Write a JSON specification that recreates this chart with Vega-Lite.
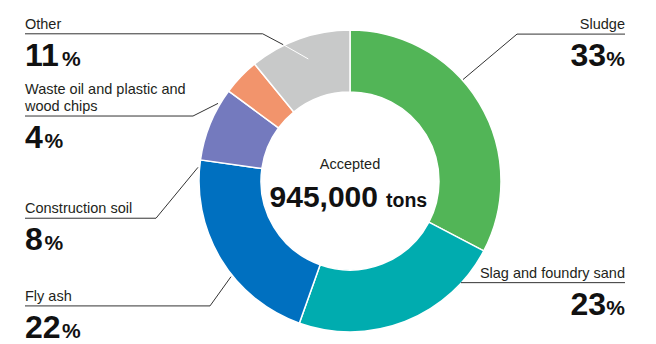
{
  "$schema": "https://vega.github.io/schema/vega-lite/v6.json",
  "width": 656,
  "height": 344,
  "autosize": {"type": "fit", "contains": "padding"},
  "padding": 0,
  "background": "white",
  "config": {"view": {"stroke": null}},
  "datasets": {
    "shares": [
      {"category": "Sludge", "share": 33, "o": 1},
      {"category": "Slag and foundry sand", "share": 23, "o": 2},
      {"category": "Fly ash", "share": 22, "o": 3},
      {"category": "Construction soil", "share": 8, "o": 4},
      {"category": "Waste oil and plastic and wood chips", "share": 4, "o": 5},
      {"category": "Other", "share": 11, "o": 6}
    ],
    "leaders": [
      {"name": "Sludge", "k": 1, "x": 463, "y": 80},
      {"name": "Sludge", "k": 2, "x": 517, "y": 34.3},
      {"name": "Sludge", "k": 3, "x": 625, "y": 34.3},
      {"name": "Slag", "k": 1, "x": 461, "y": 284.3},
      {"name": "Slag", "k": 2, "x": 625, "y": 284.3},
      {"name": "Fly ash", "k": 1, "x": 231, "y": 278.3},
      {"name": "Fly ash", "k": 2, "x": 210, "y": 307.7},
      {"name": "Fly ash", "k": 3, "x": 25, "y": 307.7},
      {"name": "Construction soil", "k": 1, "x": 198, "y": 168.3},
      {"name": "Construction soil", "k": 2, "x": 156, "y": 219.5},
      {"name": "Construction soil", "k": 3, "x": 25, "y": 219.5},
      {"name": "Waste oil", "k": 1, "x": 218, "y": 104},
      {"name": "Waste oil", "k": 2, "x": 193, "y": 116.7},
      {"name": "Waste oil", "k": 3, "x": 25, "y": 116.7},
      {"name": "Other", "k": 1, "x": 283.3, "y": 45},
      {"name": "Other", "k": 2, "x": 262.7, "y": 34},
      {"name": "Other", "k": 3, "x": 25, "y": 34}
    ],
    "inner": [
      {"name": "Other", "k": 1, "x": 308.3, "y": 59.3},
      {"name": "Other", "k": 2, "x": 283.3, "y": 45}
    ],
    "labels": [
      {"name": "Sludge", "label": "Sludge", "num": "33", "side": "R", "lx": 625, "ly": 34.3},
      {"name": "Slag", "label": "Slag and foundry sand", "num": "23", "side": "R", "lx": 625, "ly": 284.3},
      {"name": "Fly ash", "label": "Fly ash", "num": "22", "side": "L", "lx": 25, "ly": 307.7},
      {"name": "Construction soil", "label": "Construction soil", "num": "8", "side": "L", "lx": 25, "ly": 219.5},
      {"name": "Waste oil", "label": ["Waste oil and plastic and", "wood chips"], "num": "4", "side": "L", "lx": 25, "ly": 116.7},
      {"name": "Other", "label": "Other", "num": "11", "side": "L", "lx": 25, "ly": 34}
    ]
  },
  "layer": [
    {
      "data": {"name": "shares"},
      "mark": {"type": "arc", "innerRadius": 89, "outerRadius": 151, "stroke": "white", "strokeWidth": 1.5},
      "encoding": {
        "theta": {"field": "share", "type": "quantitative", "stack": true},
        "order": {"field": "o", "type": "quantitative"},
        "color": {
          "field": "category", "type": "nominal", "legend": null,
          "scale": {
            "domain": ["Sludge", "Slag and foundry sand", "Fly ash", "Construction soil", "Waste oil and plastic and wood chips", "Other"],
            "range": ["#52b557", "#00acaf", "#0070c0", "#747abe", "#f2946c", "#c8c9c9"]
          }
        },
        "x": {"datum": 350, "type": "quantitative", "scale": {"domain": [0, 656], "nice": false, "zero": false}, "axis": null},
        "y": {"datum": 182, "type": "quantitative", "scale": {"domain": [0, 344], "nice": false, "zero": false, "reverse": true}, "axis": null}
      }
    },
    {
      "data": {"name": "leaders"},
      "mark": {"type": "line", "color": "#333333", "strokeWidth": 1},
      "encoding": {
        "x": {"field": "x", "type": "quantitative"},
        "y": {"field": "y", "type": "quantitative"},
        "detail": {"field": "name"},
        "order": {"field": "k", "type": "quantitative"}
      }
    },
    {
      "data": {"name": "inner"},
      "mark": {"type": "line", "color": "#ffffff", "strokeWidth": 1},
      "encoding": {
        "x": {"field": "x", "type": "quantitative"},
        "y": {"field": "y", "type": "quantitative"},
        "detail": {"field": "name"},
        "order": {"field": "k", "type": "quantitative"}
      }
    },
    {
      "data": {"name": "labels"},
      "transform": [{"filter": "datum.side === 'R'"}],
      "mark": {"type": "text", "align": "right", "baseline": "alphabetic", "dy": -5, "font": "Liberation Sans", "fontSize": 14.5, "color": "#231f20"},
      "encoding": {
        "x": {"field": "lx", "type": "quantitative"},
        "y": {"field": "ly", "type": "quantitative"},
        "text": {"field": "label"}
      }
    },
    {
      "data": {"name": "labels"},
      "transform": [{"filter": "datum.side === 'L' && !isArray(datum.label)"}],
      "mark": {"type": "text", "align": "left", "baseline": "alphabetic", "dy": -5, "font": "Liberation Sans", "fontSize": 14.5, "color": "#231f20"},
      "encoding": {
        "x": {"field": "lx", "type": "quantitative"},
        "y": {"field": "ly", "type": "quantitative"},
        "text": {"field": "label"}
      }
    },
    {
      "data": {"name": "labels"},
      "transform": [{"filter": "datum.side === 'L' && isArray(datum.label)"}],
      "mark": {"type": "text", "align": "left", "baseline": "alphabetic", "dy": -22, "lineHeight": 17, "font": "Liberation Sans", "fontSize": 14.5, "color": "#231f20"},
      "encoding": {
        "x": {"field": "lx", "type": "quantitative"},
        "y": {"field": "ly", "type": "quantitative"},
        "text": {"field": "label"}
      }
    },
    {
      "data": {"name": "labels"},
      "transform": [{"filter": "datum.side === 'R'"}],
      "mark": {"type": "text", "align": "right", "baseline": "alphabetic", "dx": -19, "dy": 32, "font": "Liberation Sans", "fontWeight": "bold", "fontSize": 32, "color": "#111111"},
      "encoding": {
        "x": {"field": "lx", "type": "quantitative"},
        "y": {"field": "ly", "type": "quantitative"},
        "text": {"field": "num"}
      }
    },
    {
      "data": {"name": "labels"},
      "transform": [{"filter": "datum.side === 'R'"}],
      "mark": {"type": "text", "align": "right", "baseline": "alphabetic", "dy": 32, "font": "Liberation Sans", "fontWeight": "bold", "fontSize": 21, "color": "#111111"},
      "encoding": {
        "x": {"field": "lx", "type": "quantitative"},
        "y": {"field": "ly", "type": "quantitative"},
        "text": {"value": "%"}
      }
    },
    {
      "data": {"name": "labels"},
      "transform": [{"filter": "datum.side === 'L'"}],
      "mark": {"type": "text", "align": "left", "baseline": "alphabetic", "dy": 32, "font": "Liberation Sans", "fontWeight": "bold", "fontSize": 32, "color": "#111111"},
      "encoding": {
        "x": {"field": "lx", "type": "quantitative"},
        "y": {"field": "ly", "type": "quantitative"},
        "text": {"field": "num"}
      }
    },
    {
      "data": {"name": "labels"},
      "transform": [{"filter": "datum.side === 'L' && length(datum.num) === 2"}],
      "mark": {"type": "text", "align": "left", "baseline": "alphabetic", "dx": 37, "dy": 32, "font": "Liberation Sans", "fontWeight": "bold", "fontSize": 21, "color": "#111111"},
      "encoding": {
        "x": {"field": "lx", "type": "quantitative"},
        "y": {"field": "ly", "type": "quantitative"},
        "text": {"value": "%"}
      }
    },
    {
      "data": {"name": "labels"},
      "transform": [{"filter": "datum.side === 'L' && length(datum.num) === 1"}],
      "mark": {"type": "text", "align": "left", "baseline": "alphabetic", "dx": 19.5, "dy": 32, "font": "Liberation Sans", "fontWeight": "bold", "fontSize": 21, "color": "#111111"},
      "encoding": {
        "x": {"field": "lx", "type": "quantitative"},
        "y": {"field": "ly", "type": "quantitative"},
        "text": {"value": "%"}
      }
    },
    {
      "data": {"values": [{"t": "Accepted", "x": 350, "y": 170}]},
      "mark": {"type": "text", "align": "center", "baseline": "alphabetic", "font": "Liberation Sans", "fontSize": 14.5, "color": "#231f20"},
      "encoding": {
        "x": {"field": "x", "type": "quantitative"},
        "y": {"field": "y", "type": "quantitative"},
        "text": {"field": "t"}
      }
    },
    {
      "data": {"values": [{"t": "945,000", "x": 378, "y": 208}]},
      "mark": {"type": "text", "align": "right", "baseline": "alphabetic", "font": "Liberation Sans", "fontWeight": "bold", "fontSize": 30, "color": "#111111"},
      "encoding": {
        "x": {"field": "x", "type": "quantitative"},
        "y": {"field": "y", "type": "quantitative"},
        "text": {"field": "t"}
      }
    },
    {
      "data": {"values": [{"t": "tons", "x": 386, "y": 208}]},
      "mark": {"type": "text", "align": "left", "baseline": "alphabetic", "font": "Liberation Sans", "fontWeight": "bold", "fontSize": 19.5, "color": "#111111"},
      "encoding": {
        "x": {"field": "x", "type": "quantitative"},
        "y": {"field": "y", "type": "quantitative"},
        "text": {"field": "t"}
      }
    }
  ]
}
